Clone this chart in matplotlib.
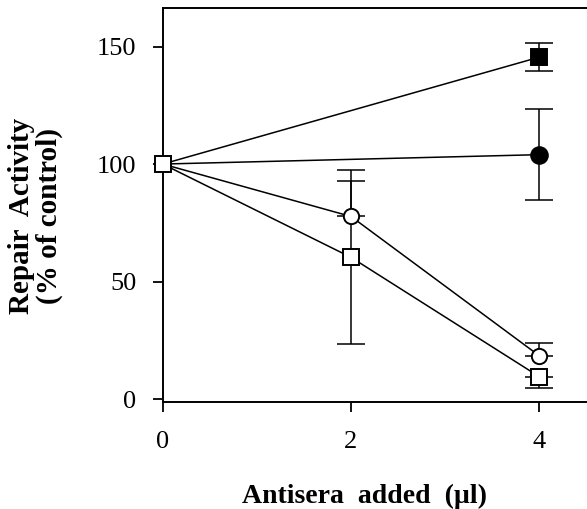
import matplotlib
matplotlib.use("Agg")
import matplotlib.pyplot as plt

# antisera added (ul)
x_ctrl = [0]
y_ctrl = [100]

x_fsq = [0, 4]
y_fsq = [100, 145.5]
e_fsq = [0, 6]

x_fci = [0, 4]
y_fci = [100, 104]
e_fci = [0, 19.5]

x_oci = [0, 2, 4]
y_oci = [100, 77.7, 18.4]
e_oci = [0, 15.3, 5.6]

x_osq = [0, 2, 4]
y_osq = [100, 60.3, 9.5]
e_osq = [0, 37, 5]

xticks = [0, 2, 4]
yticks = [0, 50, 100, 150]

plt.rcParams['font.family'] = ['Liberation Serif', 'DejaVu Serif']

fig = plt.figure(figsize=(5.87, 5.09), dpi=100)
ax = fig.add_axes([0.2772, 0.2108, 0.7228, 0.7729])

lw = 1.1


def ebar(xs, ys, lo, hi):
    ax.errorbar(xs, ys, yerr=[lo, hi], fmt='none', ecolor='black',
                elinewidth=lw, capsize=10, capthick=lw, zorder=2)


# error bars first so markers sit on top (hidden halves left out)
ebar(x_fsq[1:], y_fsq[1:], e_fsq[1:], e_fsq[1:])
ebar(x_fci[1:], y_fci[1:], e_fci[1:], e_fci[1:])
ebar(x_oci[1:], y_oci[1:], [0, 0], e_oci[1:])
ebar(x_osq[1:2], y_osq[1:2], e_osq[1:2], e_osq[1:2])
ebar(x_osq[2:], y_osq[2:], e_osq[2:], [0])

ax.plot(x_fsq, y_fsq, '-', color='black', lw=lw, zorder=3)
ax.plot(x_fci, y_fci, '-', color='black', lw=lw, zorder=3)
ax.plot(x_oci, y_oci, '-', color='black', lw=lw, zorder=3)
ax.plot(x_osq, y_osq, '-', color='black', lw=lw, zorder=3)

ax.plot(x_fsq[1:], y_fsq[1:], 's', ms=12, mfc='black', mec='black', mew=1.4, zorder=4)
ax.plot(x_fci[1:], y_fci[1:], 'o', ms=12, mfc='black', mec='black', mew=1.4, zorder=4)
ax.plot(x_oci[1:], y_oci[1:], 'o', ms=11, mfc='white', mec='black', mew=1.4, zorder=4)
ax.plot(x_osq[1:], y_osq[1:], 's', ms=11, mfc='white', mec='black', mew=1.4, zorder=4)
ax.plot(x_ctrl, y_ctrl, 's', ms=11, mfc='white', mec='black', mew=1.4, zorder=5,
        clip_on=False)

ax.set_xlim(0, 4.507)
ax.set_ylim(-1.15, 166.3)
ax.set_xticks(xticks)
ax.set_yticks(yticks)
ax.set_xticklabels([str(v) for v in xticks])
ax.set_yticklabels([str(v) for v in yticks])

ax.spines['right'].set_visible(False)
for s in ['left', 'bottom', 'top']:
    ax.spines[s].set_linewidth(1.4)
ax.tick_params(axis='both', direction='out', length=7, width=1.3, labelsize=19)
ax.tick_params(axis='y', pad=12)
ax.tick_params(axis='x', pad=14)

ax.set_xlabel('Antisera  added  (\u00b5l)', fontsize=20, fontweight='bold')
ax.xaxis.set_label_coords(0.476, -0.21)
ax.set_ylabel('Repair  Activity\n(% of control)', fontsize=21, fontweight='bold',
              linespacing=1.0)
ax.yaxis.set_label_coords(-0.236, 0.471)

fig.savefig('out.png', dpi=100)
